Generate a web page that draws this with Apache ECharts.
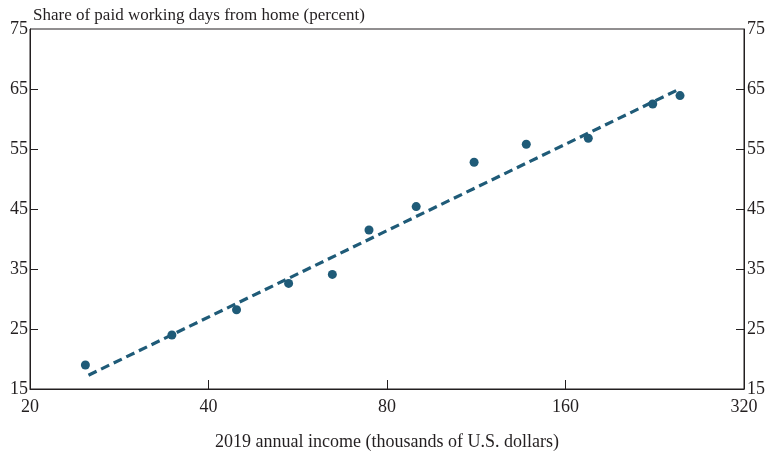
<!DOCTYPE html>
<html>
<head>
<meta charset="utf-8">
<script src="https://cdn.jsdelivr.net/npm/echarts@6/dist/echarts.min.js"></script>
<style>html,body{margin:0;padding:0;background:#fff}#c{width:772px;height:458px}</style>
</head>
<body>
<div id="c"></div>
<script>
// Data
const income = [24.8, 34.7, 44.6, 54.6, 64.7, 74.6, 89.6, 112.2, 137.4, 174.8, 224.5, 249.6];
const share = [19.0, 24.0, 28.2, 32.6, 34.1, 41.5, 45.4, 52.8, 55.8, 56.8, 62.5, 63.9];
const trendIncome = [25.1, 246.7];
const trendShare = [17.3, 64.8];
const xTicks = [20, 40, 80, 160, 320];
const yLabels = [15, 25, 35, 45, 55, 65, 75];
const yTicks = [25, 35, 45, 55, 65];

const FONT = '"Liberation Serif", "DejaVu Serif", serif';
const TXT = '#231f20';
const COLOR = '#1f5b78';

const chart = echarts.init(document.getElementById('c'), null, {renderer: 'canvas'});
const yAxisBase = (pos, margin) => ({
  type: 'value', position: pos, min: 15, max: 75,
  axisLine: {show: true, lineStyle: {color: TXT, width: 1}},
  axisTick: {show: true, inside: true, length: 8, customValues: yTicks, lineStyle: {color: TXT}},
  axisLabel: {customValues: yLabels, margin: margin, color: TXT, fontFamily: FONT, fontSize: 18},
  splitLine: {show: false}
});
chart.setOption({
  animation: false,
  backgroundColor: '#fff',
  title: {
    text: 'Share of paid working days from home (percent)',
    left: 28, top: 2,
    textStyle: {fontFamily: FONT, fontSize: 17, fontWeight: 'normal', color: TXT}
  },
  grid: {left: 30, right: 28, top: 29, bottom: 69, show: true, borderColor: TXT, borderWidth: 1, backgroundColor: 'transparent'},
  xAxis: {
    type: 'log', logBase: 2, min: 20, max: 320,
    name: '2019 annual income (thousands of U.S. dollars)',
    nameLocation: 'middle', nameGap: 44,
    nameTextStyle: {fontFamily: FONT, fontSize: 18, color: TXT},
    axisLine: {show: true, lineStyle: {color: TXT, width: 1}},
    axisTick: {show: true, inside: true, length: 9, customValues: xTicks, lineStyle: {color: TXT}},
    axisLabel: {customValues: xTicks, margin: 9, color: TXT, fontFamily: FONT, fontSize: 18},
    splitLine: {show: false}, minorTick: {show: false}
  },
  yAxis: [yAxisBase('left', 2), yAxisBase('right', 3)],
  series: [
    {
      type: 'line',
      data: trendIncome.map((x, i) => [x, trendShare[i]]),
      showSymbol: false, symbol: 'none',
      lineStyle: {color: COLOR, width: 3.2, type: [9, 5]},
      z: 2
    },
    {
      type: 'scatter',
      data: income.map((x, i) => [x, share[i]]),
      symbolSize: 9,
      itemStyle: {color: COLOR, opacity: 1},
      z: 3
    }
  ]
});
</script>
</body>
</html>
